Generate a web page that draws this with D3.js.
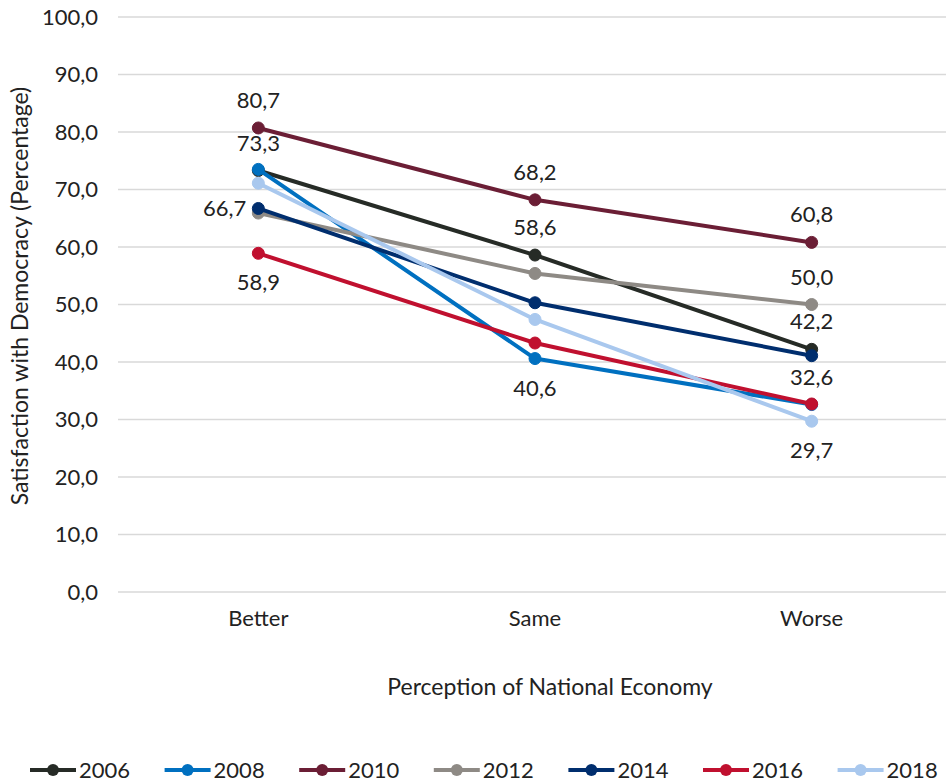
<!DOCTYPE html>
<html><head><meta charset="utf-8">
<script src="https://cdn.jsdelivr.net/npm/d3@7"></script>
<style>body{margin:0;background:#fff;}svg{display:block;font-family:Lato,"Open Sans",sans-serif;}</style>
</head><body><svg id="c" width="946" height="784"></svg>
<script>
const categories = ["Better", "Same", "Worse"];
const years = ["2006", "2008", "2010", "2012", "2014", "2016", "2018"];
const v2006 = [73.3, 58.6, 42.2];
const v2008 = [73.5, 40.6, 32.6];
const v2010 = [80.7, 68.2, 60.8];
const v2012 = [65.9, 55.4, 50.0];
const v2014 = [66.7, 50.3, 41.1];
const v2016 = [58.9, 43.3, 32.7];
const v2018 = [71.1, 47.4, 29.7];
const colors = ["#262b26", "#0070c0", "#6b1e35", "#8e8a85", "#002e6e", "#c0102f", "#a9c8ee"];
const yTicks = [0, 10, 20, 30, 40, 50, 60, 70, 80, 90, 100];
// data labels: [year index, category index, position]
const dataLabels = [
  [2, 0, "above"], [0, 0, "above"], [4, 0, "left"], [5, 0, "below"],
  [2, 1, "above"], [0, 1, "above"], [1, 1, "below"],
  [2, 2, "above"], [3, 2, "above"], [0, 2, "above"], [1, 2, "above"], [6, 2, "below"]
];
const seriesValues = [v2006, v2008, v2010, v2012, v2014, v2016, v2018];
const series = years.map((y, i) => ({year: y, values: seriesValues[i], color: colors[i]}));

const svg = d3.select("#c");
const x = d3.scaleBand().domain(categories).range([120, 950]);
const y = d3.scaleLinear().domain([0, 100]).range([592, 17]);
const fmt = v => d3.format(".1f")(v).replace(".", ",");
const FS = 22;

// gridlines
svg.append("g").selectAll("line").data(yTicks).join("line")
  .attr("x1", 118).attr("x2", 946).attr("y1", d => y(d)).attr("y2", d => y(d))
  .attr("stroke", "#d9d9d9").attr("stroke-width", 1.3);

// y axis
const ya = svg.append("g").attr("transform", "translate(118,0)")
  .call(d3.axisLeft(y).tickValues(yTicks).tickFormat(fmt).tickSize(0).tickPadding(20));
ya.select(".domain").remove();
ya.selectAll("text").attr("font-size", FS).attr("fill", "#222").attr("font-family", "Lato");

// x axis
const xa = svg.append("g").attr("transform", "translate(0,592)")
  .call(d3.axisBottom(x).tickSize(0).tickPadding(18));
xa.select(".domain").remove();
xa.selectAll("text").attr("font-size", FS).attr("fill", "#222").attr("font-family", "Lato");

// titles
svg.append("text").attr("x", 550).attr("y", 695).attr("text-anchor", "middle")
  .attr("font-size", 23).attr("fill", "#222").text("Perception of National Economy");
svg.append("text").attr("transform", "translate(28,296) rotate(-90)").attr("text-anchor", "middle")
  .attr("font-size", 23).attr("fill", "#222").text("Satisfaction with Democracy (Percentage)");

// lines
const line = d3.line().x((d, i) => x(categories[i]) + x.bandwidth() / 2).y(d => y(d));
const g = svg.append("g");
series.forEach(s => {
  const sg = g.append("g");
  sg.append("path").attr("d", line(s.values)).attr("fill", "none")
    .attr("stroke", s.color).attr("stroke-width", 4).attr("stroke-linejoin", "round");
  sg.selectAll("circle").data(s.values).join("circle")
    .attr("cx", (d, i) => x(categories[i]) + x.bandwidth() / 2).attr("cy", d => y(d))
    .attr("r", 6).attr("fill", s.color).attr("stroke", s.color).attr("stroke-width", 1);
});

// data labels
svg.append("g").selectAll("text").data(dataLabels).join("text")
  .attr("x", d => {
    const cx = x(categories[d[1]]) + x.bandwidth() / 2;
    return d[2] === "left" ? cx - 12 : cx;
  })
  .attr("y", d => {
    const cy = y(seriesValues[d[0]][d[1]]);
    if (d[2] === "above") return cy - 20;
    if (d[2] === "below") return cy + 37;
    return cy + 8;
  })
  .attr("text-anchor", d => d[2] === "left" ? "end" : "middle")
  .attr("font-size", FS).attr("fill", "#222")
  .text(d => fmt(seriesValues[d[0]][d[1]]));

// legend
const lg = svg.append("g").selectAll("g").data(series).join("g")
  .attr("transform", (d, i) => `translate(${30 + i * 134.6},770)`);
lg.append("line").attr("x1", 0).attr("x2", 46).attr("stroke", d => d.color).attr("stroke-width", 4);
lg.append("circle").attr("cx", 23).attr("r", 6).attr("fill", d => d.color);
lg.append("text").attr("x", 49).attr("y", 8).attr("font-size", FS).attr("fill", "#222").text(d => d.year);
</script></body></html>
